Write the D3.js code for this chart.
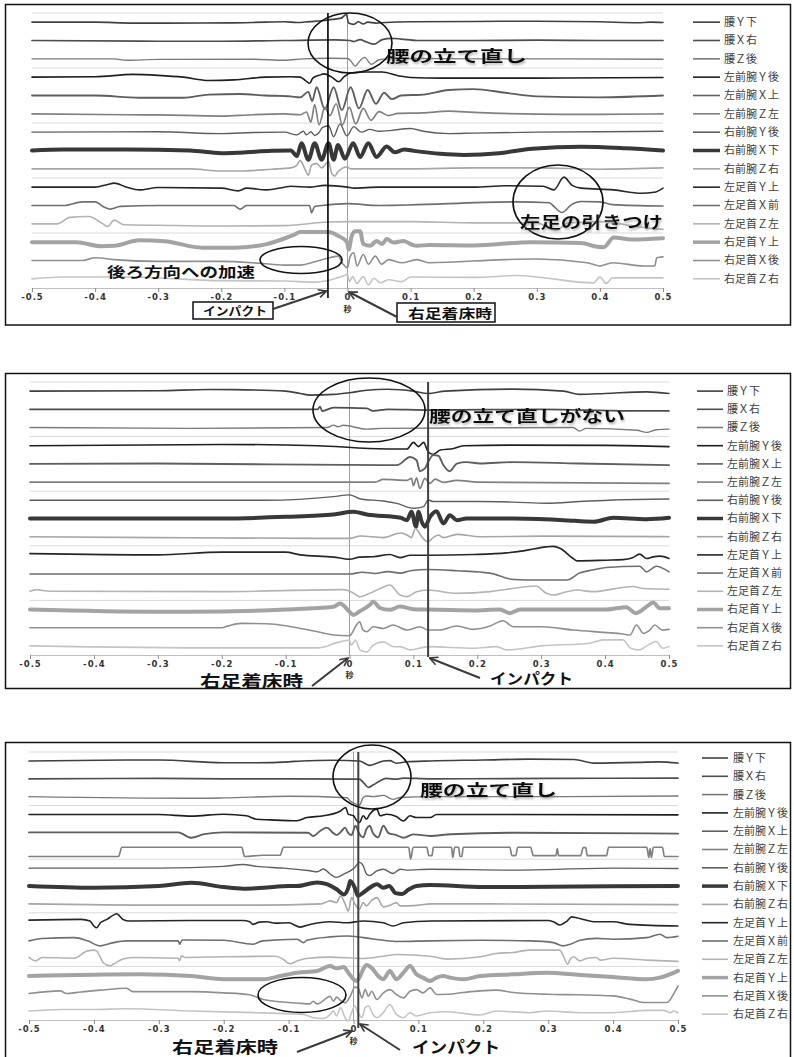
<!DOCTYPE html>
<html><head><meta charset="utf-8">
<script src="https://cdn.jsdelivr.net/npm/d3@7"></script>
<style>body{margin:0;background:#fff}svg{display:block}</style>
</head><body>
<svg id="c" width="794" height="1057"></svg>
<script>
// ---------- categories / ticks ----------
const seriesNames = ["腰Ｙ下","腰Ｘ右","腰Ｚ後","左前腕Ｙ後","左前腕Ｘ上","左前腕Ｚ左","右前腕Ｙ後","右前腕Ｘ下","右前腕Ｚ右","左足首Ｙ上","左足首Ｘ前","左足首Ｚ左","右足首Ｙ上","右足首Ｘ後","右足首Ｚ右"];
const xTicks = [-0.5,-0.4,-0.3,-0.2,-0.1,0,0.1,0.2,0.3,0.4,0.5];
const xTickLabels = ["-0.5","-0.4","-0.3","-0.2","-0.1","0","0.1","0.2","0.3","0.4","0.5"];
const axisTitle = "秒";
const gridValues = [3,6,9,12,15];

// ---------- series values: [time (s), deviation from the trace's own baseline] ----------
// swing 1
const s1WaistY = [[-0.5,0],[-0.4,0],[-0.34,-0.05],[-0.29,-0.05],[-0.19,-0.04],[-0.13,0],[-0.1,0.02],[-0.08,-0.02],[-0.06,0.03],[-0.04,0.08],[-0.025,0.15],[-0.01,0.22],[-0.002,0.42],[0.002,-0.05],[0.01,-0.12],[0.017,0.02],[0.025,-0.1],[0.032,0],[0.045,-0.05],[0.06,-0.02],[0.1,0.02],[0.2,0.04],[0.3,0.05],[0.4,0.02],[0.46,-0.03],[0.48,0],[0.5,-0.02]];
const s1WaistX = [[-0.5,0],[-0.3,-0.04],[-0.2,-0.04],[-0.1,0],[-0.02,0.03],[0.004,0],[0.01,-0.06],[0.02,0.05],[0.03,-0.08],[0.042,-0.2],[0.055,0.05],[0.07,0.12],[0.085,0.08],[0.11,0],[0.2,0],[0.3,0.02],[0.4,0],[0.5,0]];
const s1WaistZ = [[-0.5,0],[-0.37,0],[-0.35,-0.08],[-0.3,-0.03],[-0.15,-0.02],[-0.1,-0.08],[-0.07,0],[-0.03,0.03],[0,0.02],[0.005,-0.1],[0.012,-0.4],[0.02,-0.1],[0.027,0.08],[0.038,-0.3],[0.05,-0.05],[0.065,0],[0.1,0.02],[0.2,0],[0.35,0],[0.5,-0.02]];
const s1LArmY = [[-0.5,0],[-0.4,0.02],[-0.34,0.15],[-0.3,0.1],[-0.26,0],[-0.22,-0.18],[-0.18,-0.15],[-0.13,0],[-0.09,0.02],[-0.075,0],[-0.066,-0.2],[-0.06,-0.33],[-0.055,-0.05],[-0.045,0.1],[-0.037,0.18],[-0.025,0],[-0.014,-0.25],[-0.006,0],[0.004,0.22],[0.03,0.28],[0.055,0.28],[0.08,0.08],[0.1,-0.02],[0.15,-0.05],[0.3,-0.05],[0.5,-0.02]];
const s1LArmX = [[-0.5,0],[-0.4,0],[-0.33,-0.12],[-0.26,-0.12],[-0.22,0.05],[-0.17,0.08],[-0.13,0],[-0.09,-0.05],[-0.075,-0.1],[-0.062,0.2],[-0.056,-0.3],[-0.049,0.45],[-0.036,-0.75],[-0.022,0.45],[-0.009,-0.8],[0.005,0.45],[0.018,-0.7],[0.032,0.3],[0.045,-0.45],[0.058,0.15],[0.07,-0.2],[0.085,0],[0.12,0.05],[0.16,0.3],[0.2,0.35],[0.25,0.15],[0.3,-0.05],[0.4,-0.1],[0.5,0]];
const s1LArmZ = [[-0.5,0],[-0.35,-0.05],[-0.3,-0.06],[-0.2,-0.12],[-0.17,-0.08],[-0.1,0],[-0.075,-0.05],[-0.065,0.1],[-0.058,-0.45],[-0.052,0.5],[-0.045,-0.6],[-0.036,0.35],[-0.028,-0.1],[-0.018,0.55],[-0.008,-0.6],[0.003,0.35],[0.013,-0.55],[0.025,0.3],[0.037,-0.35],[0.05,0.12],[0.065,-0.1],[0.08,0.02],[0.12,0.05],[0.16,0.15],[0.2,0.08],[0.3,-0.02],[0.4,-0.03],[0.5,0]];
const s1RArmY = [[-0.5,0],[-0.3,0.02],[-0.2,-0.08],[-0.15,-0.02],[-0.1,0],[-0.08,-0.15],[-0.07,0.05],[-0.065,-0.15],[-0.058,0.02],[-0.052,-0.18],[-0.045,-0.02],[-0.04,0.25],[-0.03,0.35],[-0.022,-0.25],[-0.012,0.45],[-0.001,-0.2],[0.01,0.3],[0.022,0],[0.035,0.15],[0.05,0.05],[0.07,0.1],[0.1,0.2],[0.12,0.05],[0.16,-0.08],[0.2,-0.05],[0.3,0],[0.4,0.02],[0.5,0.05]];
const s1RArmX = [[-0.5,0],[-0.45,0.05],[-0.35,0.05],[-0.25,0],[-0.2,-0.15],[-0.17,-0.12],[-0.12,-0.02],[-0.09,0],[-0.08,-0.3],[-0.073,0.4],[-0.062,-0.5],[-0.052,0.4],[-0.041,-0.5],[-0.03,0.4],[-0.022,-0.5],[-0.015,0.3],[-0.004,-0.45],[0.009,0.4],[0.02,-0.35],[0.033,0.4],[0.046,-0.35],[0.062,0.22],[0.075,-0.1],[0.09,0.05],[0.105,-0.02],[0.147,-0.18],[0.184,-0.24],[0.24,-0.15],[0.293,0.1],[0.37,0.2],[0.44,0.12],[0.5,0]];
const s1RArmZ = [[-0.5,0],[-0.25,0],[-0.2,-0.12],[-0.17,-0.12],[-0.12,-0.02],[-0.09,0.05],[-0.08,0.2],[-0.075,0.45],[-0.067,-0.05],[-0.062,-0.35],[-0.057,0.2],[-0.049,0.3],[-0.041,0.05],[-0.03,0.4],[-0.025,-0.25],[-0.02,-0.4],[-0.015,-0.15],[-0.001,0.1],[0.005,0],[0.1,0],[0.2,0.05],[0.3,0.05],[0.4,-0.02],[0.5,0.05]];
const s1LAnkY = [[-0.5,0],[-0.4,0],[-0.38,0.15],[-0.37,0.22],[-0.35,0],[-0.33,-0.15],[-0.3,-0.02],[-0.2,-0.05],[-0.173,-0.2],[-0.16,-0.05],[-0.128,-0.15],[-0.1,0],[-0.09,0.05],[-0.06,0],[-0.036,0.1],[0,0],[0.01,-0.05],[0.05,0],[0.2,0],[0.25,0.08],[0.31,0.05],[0.327,-0.15],[0.343,0.55],[0.356,0.1],[0.37,-0.05],[0.422,-0.15],[0.465,-0.33],[0.486,-0.28],[0.5,-0.05]];
const s1LAnkX = [[-0.5,0],[-0.45,0],[-0.42,0.2],[-0.4,0.2],[-0.385,-0.1],[-0.376,-0.2],[-0.36,-0.05],[-0.3,0],[-0.18,0],[-0.17,-0.2],[-0.16,0],[-0.06,0],[-0.057,-0.4],[-0.052,-0.05],[-0.04,0],[0,0.1],[0.05,0],[0.27,0.2],[0.32,0.15],[0.327,-0.05],[0.34,-0.38],[0.355,0.05],[0.37,0.22],[0.4,0.2],[0.42,0.05],[0.5,-0.03]];
const s1LAnkZ = [[-0.5,0],[-0.46,0],[-0.44,0.35],[-0.41,0.4],[-0.39,0.05],[-0.38,-0.15],[-0.37,0.2],[-0.355,-0.05],[-0.3,-0.08],[-0.2,-0.12],[-0.1,-0.1],[-0.03,0.1],[0,0.12],[0.1,0.12],[0.2,0.05],[0.3,0.05],[0.33,-0.35],[0.35,0.05],[0.37,0.08],[0.4,0.12],[0.45,-0.1],[0.48,-0.25],[0.5,-0.3]];
const s1RAnkY = [[-0.5,0],[-0.43,0],[-0.39,-0.22],[-0.37,-0.2],[-0.33,0.1],[-0.29,0.05],[-0.23,-0.3],[-0.18,-0.3],[-0.13,-0.12],[-0.1,0.2],[-0.085,0.4],[-0.075,0.55],[-0.03,0.55],[-0.015,0.35],[-0.001,0],[0.002,-0.4],[0.006,0.25],[0.012,0.6],[0.02,0.6],[0.025,-0.1],[0.036,-0.2],[0.046,0.07],[0.055,-0.1],[0.062,0.17],[0.073,-0.02],[0.089,0.07],[0.1,-0.1],[0.11,-0.2],[0.13,-0.15],[0.2,-0.18],[0.29,0],[0.37,-0.05],[0.396,-0.25],[0.406,-0.28],[0.422,0.25],[0.45,0.15],[0.5,0.22]];
const s1RAnkX = [[-0.5,0],[-0.42,0],[-0.4,0.15],[-0.37,0.05],[-0.3,-0.05],[-0.2,-0.05],[-0.14,-0.15],[-0.1,-0.25],[-0.075,-0.25],[-0.05,-0.05],[-0.028,0.15],[-0.015,0.24],[-0.007,-0.2],[0,-0.4],[0.004,0.2],[0.01,0.42],[0.015,-0.3],[0.025,0.33],[0.033,-0.2],[0.044,0.24],[0.054,-0.2],[0.065,0.05],[0.086,-0.12],[0.11,0.05],[0.13,-0.12],[0.25,0.05],[0.3,0.08],[0.38,-0.12],[0.4,-0.3],[0.42,-0.12],[0.47,-0.3],[0.487,-0.3],[0.49,0.15],[0.5,0.2]];
const s1RAnkZ = [[-0.5,0],[-0.45,0.1],[-0.35,0.1],[-0.2,-0.1],[-0.1,-0.12],[-0.05,-0.18],[-0.011,0.1],[0,0.22],[0.003,-0.15],[0.008,0.12],[0.015,-0.25],[0.025,0.12],[0.033,-0.33],[0.042,0.03],[0.052,-0.22],[0.065,-0.05],[0.086,-0.15],[0.1,0.1],[0.2,0.08],[0.27,0.18],[0.3,0.1],[0.39,-0.22],[0.4,0.1],[0.41,-0.25],[0.42,0.05],[0.5,0.05]];

// swing 2
const s2WaistY = [[-0.5,0],[-0.3,0.02],[-0.22,0.09],[-0.18,0.08],[-0.1,0],[-0.077,-0.13],[-0.062,-0.22],[-0.025,-0.18],[0,-0.09],[0.027,0.05],[0.06,0.1],[0.1,0],[0.123,-0.13],[0.15,0],[0.256,0.11],[0.335,0],[0.36,-0.18],[0.4,-0.13],[0.465,-0.04],[0.5,-0.13]];
const s2WaistX = [[-0.5,0],[-0.2,0],[-0.05,0],[-0.046,0.15],[-0.043,-0.1],[-0.025,0.09],[0.027,0.05],[0.037,-0.09],[0.06,0],[0.123,-0.04],[0.3,0],[0.45,-0.09],[0.5,-0.09]];
const s2WaistZ = [[-0.5,0],[-0.25,-0.05],[-0.035,0],[-0.025,0.13],[-0.018,0.04],[-0.01,0.12],[0.027,-0.09],[0.05,-0.05],[0.2,-0.02],[0.35,0],[0.36,-0.2],[0.37,-0.05],[0.45,-0.15],[0.465,-0.27],[0.48,-0.12],[0.5,-0.09]];
const s2LArmY = [[-0.5,0],[-0.2,0.07],[-0.05,0],[0.03,-0.15],[0.09,-0.18],[0.1,0.18],[0.108,-0.05],[0.116,0.18],[0.123,-0.33],[0.131,-0.48],[0.142,-0.24],[0.163,-0.15],[0.178,0],[0.25,0.03],[0.4,0.02],[0.5,-0.05]];
const s2LArmX = [[-0.5,0],[-0.3,0.02],[0.053,-0.07],[0.074,-0.07],[0.095,0.38],[0.105,0.2],[0.11,-0.4],[0.118,-0.25],[0.123,0.1],[0.131,0.48],[0.139,0.45],[0.147,-0.07],[0.157,-0.4],[0.168,0.02],[0.183,0.1],[0.204,0.02],[0.256,0.1],[0.36,0.02],[0.5,-0.07]];
const s2LArmZ = [[-0.5,0],[0.04,0],[0.053,0.15],[0.09,0.1],[0.097,0.2],[0.1,-0.2],[0.105,0.24],[0.11,-0.35],[0.118,0.2],[0.126,-0.07],[0.134,0.16],[0.147,-0.02],[0.168,0.1],[0.2,0],[0.5,-0.07]];
const s2RArmY = [[-0.5,0],[-0.13,0],[-0.025,0.2],[0,0.3],[0.017,0.07],[0.053,-0.04],[0.074,-0.17],[0.1,-0.44],[0.116,-0.35],[0.123,0.02],[0.131,-0.07],[0.2,-0.07],[0.256,-0.1],[0.309,-0.16],[0.36,-0.07],[0.413,0.02],[0.5,0.07]];
const s2RArmX = [[-0.5,0],[-0.2,0],[-0.1,0.09],[-0.025,0.22],[0.006,0.37],[0.027,0.22],[0.08,0.04],[0.09,-0.09],[0.097,0.37],[0.104,-0.45],[0.108,0.37],[0.113,-0.18],[0.118,-0.45],[0.126,0.09],[0.136,0.4],[0.147,-0.27],[0.157,0.18],[0.168,-0.09],[0.183,0],[0.256,0],[0.335,-0.09],[0.382,-0.18],[0.413,0.04],[0.465,-0.04],[0.5,0.04]];
const s2RArmZ = [[-0.5,0],[-0.3,-0.05],[-0.05,-0.09],[0,-0.09],[0.017,0.04],[0.053,-0.05],[0.08,0.2],[0.09,0.09],[0.097,-0.05],[0.103,0.45],[0.108,0.27],[0.113,0],[0.123,-0.27],[0.131,-0.05],[0.139,0.09],[0.147,-0.05],[0.168,0.13],[0.204,0],[0.3,0.03],[0.5,0]];
const s2LAnkY = [[-0.5,0.07],[-0.3,0],[-0.2,0.15],[-0.1,0.15],[-0.077,0],[-0.025,-0.12],[0,-0.24],[0.016,-0.12],[0.037,-0.1],[0.063,0.02],[0.079,-0.15],[0.095,-0.02],[0.123,-0.02],[0.194,0.02],[0.246,0.11],[0.272,0.22],[0.308,0.44],[0.319,0.47],[0.33,0.35],[0.35,-0.2],[0.356,-0.33],[0.402,-0.29],[0.428,-0.26],[0.443,-0.15],[0.454,0.04],[0.465,-0.2],[0.475,-0.11],[0.486,-0.07],[0.5,-0.2]];
const s2LAnkX = [[-0.5,-0.05],[-0.2,-0.05],[0,-0.05],[0.02,0.05],[0.04,-0.02],[0.06,0.08],[0.08,0],[0.095,0.13],[0.123,0.2],[0.168,0.13],[0.22,0],[0.257,-0.35],[0.298,-0.38],[0.34,-0.38],[0.36,0],[0.38,0.17],[0.402,0.31],[0.454,0.38],[0.465,0.07],[0.48,0.38],[0.5,0.07]];
const s2LAnkZ = [[-0.5,0],[-0.49,0.09],[-0.47,0],[-0.2,-0.02],[-0.01,0.09],[0.006,-0.09],[0.016,-0.3],[0.032,-0.1],[0.048,0.15],[0.063,0.35],[0.079,-0.2],[0.09,-0.29],[0.105,-0.02],[0.123,0.07],[0.168,-0.11],[0.22,-0.02],[0.246,0.11],[0.292,0.29],[0.308,-0.11],[0.319,-0.2],[0.34,-0.02],[0.356,0.07],[0.38,-0.02],[0.443,0.26],[0.46,0.15],[0.5,0.11]];
const s2RAnkY = [[-0.5,0],[-0.3,-0.12],[-0.25,-0.12],[-0.1,0],[-0.025,0.15],[-0.015,0.33],[0,-0.12],[0.006,-0.3],[0.016,-0.1],[0.032,0.26],[0.037,0.42],[0.048,0.07],[0.063,-0.02],[0.079,0.16],[0.1,0.02],[0.123,0],[0.194,-0.05],[0.235,0],[0.251,-0.2],[0.267,0],[0.402,0],[0.433,0.13],[0.448,-0.2],[0.465,0.16],[0.475,0.38],[0.486,0.07],[0.5,0.07]];
const s2RAnkX = [[-0.5,0],[-0.2,0],[-0.19,0.1],[-0.17,0.24],[-0.13,0.22],[-0.1,0.11],[-0.077,-0.04],[-0.05,-0.22],[-0.025,-0.4],[0,-0.44],[0.011,0.15],[0.016,0.33],[0.021,-0.13],[0.027,-0.22],[0.037,0.05],[0.053,-0.04],[0.068,0.15],[0.09,-0.13],[0.11,0.05],[0.123,-0.13],[0.141,-0.13],[0.168,0.09],[0.194,-0.09],[0.22,0.09],[0.24,0.38],[0.257,0.05],[0.3,0.05],[0.35,-0.13],[0.428,-0.35],[0.439,-0.4],[0.449,0.15],[0.46,-0.31],[0.47,-0.13],[0.478,0.15],[0.489,-0.13],[0.5,-0.09]];
const s2RAnkZ = [[-0.5,0],[-0.2,-0.11],[-0.05,-0.11],[-0.015,0.22],[0,0.31],[0.003,0.04],[0.009,0.31],[0.017,-0.24],[0.027,-0.33],[0.037,0.04],[0.053,0.22],[0.07,-0.05],[0.079,-0.04],[0.095,-0.22],[0.123,-0.04],[0.194,-0.13],[0.23,-0.04],[0.246,-0.22],[0.3,0],[0.376,0.15],[0.397,0.33],[0.428,0.33],[0.44,-0.13],[0.454,-0.22],[0.465,0],[0.48,0.24],[0.49,-0.13],[0.5,-0.04]];

// swing 3
const s3WaistY = [[-0.5,0],[-0.35,0.05],[-0.3,0.05],[-0.2,-0.1],[-0.15,-0.1],[-0.1,-0.05],[-0.08,0],[-0.031,0.04],[0.009,0],[0.015,-0.09],[0.025,-0.25],[0.036,-0.13],[0.046,0],[0.056,0.02],[0.066,-0.13],[0.082,-0.05],[0.118,0],[0.2,0.05],[0.27,0.1],[0.34,0.08],[0.37,-0.12],[0.44,-0.08],[0.47,-0.05],[0.5,-0.12]];
const s3WaistX = [[-0.5,0],[-0.3,0.02],[-0.2,0],[0.009,-0.02],[0.015,-0.2],[0.023,-0.48],[0.03,-0.35],[0.041,-0.11],[0.05,0.02],[0.066,-0.02],[0.077,0.04],[0.118,0],[0.3,0.02],[0.5,0.04]];
const s3WaistZ = [[-0.5,0],[-0.25,-0.09],[-0.2,-0.07],[-0.1,0.02],[-0.01,-0.06],[-0.005,-0.25],[0.003,-0.4],[0.009,-0.48],[0.015,-0.05],[0.02,0.04],[0.03,0],[0.046,0.07],[0.061,-0.15],[0.072,-0.05],[0.118,0],[0.3,0],[0.5,0.04]];
const s3LArmY = [[-0.5,0],[-0.3,0],[-0.25,-0.09],[-0.2,0.02],[-0.165,-0.07],[-0.15,-0.26],[-0.128,-0.3],[-0.087,-0.35],[-0.072,-0.17],[-0.046,-0.07],[-0.02,0.2],[-0.012,0.39],[-0.008,0.02],[0,-0.07],[0.005,-0.35],[0.009,-0.45],[0.015,-0.07],[0.02,-0.26],[0.025,0.02],[0.036,0.3],[0.041,-0.07],[0.051,0.02],[0.066,-0.11],[0.077,-0.36],[0.087,-0.07],[0.097,-0.17],[0.118,-0.17],[0.128,0],[0.2,0],[0.5,-0.02]];
const s3LArmX = [[-0.5,0],[-0.27,0],[-0.25,-0.3],[-0.23,-0.1],[-0.2,0],[-0.07,-0.02],[-0.062,-0.2],[-0.051,0.09],[-0.041,0.27],[-0.031,-0.04],[-0.026,-0.15],[-0.018,0.09],[-0.013,0.27],[-0.008,-0.04],[-0.003,-0.15],[0.003,0.37],[0.009,-0.09],[0.015,-0.28],[0.02,0.19],[0.025,0.37],[0.03,-0.04],[0.038,-0.28],[0.046,0.37],[0.054,-0.04],[0.066,-0.15],[0.077,-0.3],[0.092,-0.11],[0.118,-0.2],[0.15,-0.1],[0.25,-0.02],[0.5,-0.07]];
const s3LArmZ = [[-0.5,-0.35],[-0.362,-0.35],[-0.357,0.17],[-0.172,0.17],[-0.168,-0.35],[-0.14,-0.28],[-0.113,-0.28],[-0.108,0.17],[0.085,0.17],[0.088,-0.5],[0.092,0.17],[0.113,0.17],[0.116,-0.3],[0.121,-0.3],[0.123,0.17],[0.151,0.17],[0.153,-0.4],[0.156,0.17],[0.162,0.17],[0.164,-0.35],[0.167,-0.35],[0.169,0.17],[0.241,0.17],[0.244,-0.3],[0.25,-0.3],[0.253,0.17],[0.273,0.17],[0.277,-0.3],[0.312,-0.3],[0.314,0.1],[0.316,-0.3],[0.35,-0.3],[0.354,0.15],[0.358,0.15],[0.36,-0.3],[0.39,-0.3],[0.393,0.17],[0.452,0.17],[0.455,-0.4],[0.457,0.1],[0.459,-0.4],[0.462,0.17],[0.476,0.17],[0.479,-0.35],[0.5,-0.35]];
const s3RArmY = [[-0.5,0],[-0.3,0],[-0.2,0.1],[-0.17,0.2],[-0.15,0.1],[-0.108,0],[-0.067,-0.15],[-0.056,-0.2],[-0.046,-0.05],[-0.036,-0.33],[-0.026,-0.52],[-0.015,-0.33],[-0.005,-0.15],[0.002,0.04],[0.009,0.32],[0.015,0.13],[0.02,-0.33],[0.025,-0.42],[0.036,-0.15],[0.046,-0.06],[0.061,-0.3],[0.072,-0.06],[0.082,-0.11],[0.118,-0.06],[0.246,-0.11],[0.4,0],[0.5,-0.02]];
const s3RArmX = [[-0.5,0],[-0.4,-0.1],[-0.3,0],[-0.25,0.18],[-0.2,-0.06],[-0.17,-0.15],[-0.139,-0.1],[-0.1,0],[-0.087,0],[-0.056,0.2],[-0.041,0.1],[-0.026,-0.18],[-0.015,-0.47],[-0.008,-0.1],[-0.005,0.28],[0.002,-0.1],[0.007,-0.55],[0.015,-0.37],[0.025,-0.1],[0.036,0.1],[0.046,-0.1],[0.055,0],[0.065,-0.4],[0.075,-0.45],[0.085,-0.2],[0.097,0],[0.118,0.05],[0.2,-0.06],[0.3,-0.04],[0.5,0]];
const s3RArmZ = [[-0.5,0],[-0.3,-0.07],[-0.15,-0.07],[-0.05,0],[-0.036,0.17],[-0.026,0.07],[-0.02,0.44],[-0.013,0],[-0.008,-0.4],[-0.003,0.35],[0.002,0],[0.009,-0.3],[0.015,0.07],[0.02,-0.11],[0.028,0.2],[0.036,0.35],[0.046,-0.17],[0.061,0],[0.066,0.07],[0.072,-0.11],[0.092,-0.1],[0.12,0],[0.5,-0.04]];
const s3LAnkY = [[-0.5,0.09],[-0.42,0.13],[-0.406,0.04],[-0.4,-0.24],[-0.396,-0.34],[-0.39,-0.06],[-0.38,0.13],[-0.37,0.37],[-0.365,0.45],[-0.355,0.13],[-0.345,0.04],[-0.25,0.07],[-0.17,0.07],[-0.16,0],[-0.155,-0.15],[-0.145,-0.02],[-0.134,0],[-0.12,-0.08],[-0.1,-0.06],[-0.082,-0.3],[-0.067,-0.15],[-0.036,0],[-0.01,-0.06],[0.015,0.04],[0.046,-0.06],[0.061,-0.24],[0.077,-0.06],[0.12,0.04],[0.3,0.07],[0.308,0],[0.318,-0.18],[0.329,0.04],[0.336,0.27],[0.344,0.22],[0.354,0.13],[0.37,0],[0.4,0],[0.426,-0.15],[0.5,-0.24]];
const s3LAnkX = [[-0.5,-0.07],[-0.48,0.06],[-0.43,0.11],[-0.41,-0.07],[-0.39,-0.35],[-0.37,-0.17],[-0.35,-0.07],[-0.27,-0.07],[-0.268,-0.26],[-0.264,-0.02],[-0.2,-0.04],[-0.155,-0.26],[-0.14,-0.07],[-0.087,0.02],[-0.077,-0.17],[-0.072,-0.04],[-0.036,0.15],[-0.01,0.2],[0.015,0.11],[0.046,-0.04],[0.066,-0.11],[0.118,-0.07],[0.195,-0.04],[0.272,-0.07],[0.308,-0.17],[0.323,-0.35],[0.334,-0.26],[0.349,-0.04],[0.374,0.07],[0.4,0.02],[0.452,0.11],[0.472,0.3],[0.483,0.11],[0.5,0.19]];
const s3LAnkZ = [[-0.5,0],[-0.49,-0.19],[-0.48,0],[-0.43,-0.04],[-0.41,0.37],[-0.4,0.41],[-0.396,0.37],[-0.39,0],[-0.386,-0.28],[-0.375,-0.47],[-0.37,-0.37],[-0.355,-0.09],[-0.34,0],[-0.27,-0.04],[-0.268,-0.19],[-0.265,0.09],[-0.26,0],[-0.2,0.04],[-0.12,0.07],[-0.108,-0.11],[-0.098,-0.35],[-0.087,-0.2],[-0.072,-0.06],[-0.036,0.02],[0.015,-0.06],[0.046,0.07],[0.066,0.17],[0.118,0.07],[0.144,-0.09],[0.195,0.04],[0.22,0.22],[0.246,0.28],[0.272,0.41],[0.318,0.41],[0.322,0.19],[0.33,-0.37],[0.334,-0.09],[0.339,0.04],[0.349,-0.19],[0.36,-0.04],[0.374,0],[0.38,-0.15],[0.4,-0.04],[0.452,-0.15],[0.5,-0.22]];
const s3RAnkY = [[-0.5,-0.04],[-0.33,0.06],[-0.25,-0.04],[-0.2,-0.22],[-0.139,-0.22],[-0.113,-0.04],[-0.087,0.15],[-0.056,0.24],[-0.036,0.52],[-0.026,0.39],[-0.015,0.46],[-0.008,0.15],[0,-0.22],[0.005,-0.32],[0.009,-0.13],[0.015,0.34],[0.02,0.58],[0.03,0.34],[0.038,-0.04],[0.046,-0.22],[0.056,0.24],[0.066,-0.22],[0.077,0.15],[0.087,0.52],[0.097,0.06],[0.107,-0.13],[0.118,-0.32],[0.128,-0.13],[0.138,-0.04],[0.149,-0.13],[0.169,-0.22],[0.195,-0.04],[0.246,0.06],[0.298,0.15],[0.349,0.02],[0.4,-0.09],[0.452,-0.22],[0.472,-0.13],[0.5,0.25]];
const s3RAnkX = [[-0.5,-0.02],[-0.452,0.13],[-0.442,-0.02],[-0.42,0.07],[-0.39,0.17],[-0.35,0.28],[-0.34,0.09],[-0.25,0.09],[-0.2,0.02],[-0.16,-0.09],[-0.139,-0.35],[-0.113,-0.48],[-0.087,-0.55],[-0.067,-0.6],[-0.062,-0.45],[-0.056,-0.6],[-0.041,-0.26],[-0.036,-0.17],[-0.031,-0.45],[-0.026,-0.22],[-0.02,-0.41],[-0.013,-0.54],[-0.005,-0.17],[0.002,0.34],[0.007,0.3],[0.013,-0.26],[0.018,0.2],[0.023,-0.17],[0.028,0.11],[0.036,-0.35],[0.046,0.02],[0.056,0.2],[0.066,-0.07],[0.077,-0.26],[0.087,0.11],[0.097,0.2],[0.107,0.02],[0.118,0.3],[0.128,-0.07],[0.144,-0.06],[0.169,0.04],[0.195,0.13],[0.22,0.17],[0.246,0.04],[0.298,-0.06],[0.349,-0.09],[0.4,-0.15],[0.426,-0.33],[0.447,-0.52],[0.483,-0.52],[0.493,-0.06],[0.5,0.41]];
const s3RAnkZ = [[-0.5,0],[-0.45,0.09],[-0.4,0.09],[-0.35,0.13],[-0.25,0],[-0.15,-0.09],[-0.1,-0.15],[-0.077,-0.19],[-0.062,-0.37],[-0.046,-0.41],[-0.036,-0.19],[-0.031,0],[-0.026,-0.28],[-0.02,0.19],[-0.013,-0.37],[-0.008,-0.56],[-0.003,-0.09],[0.002,0.28],[0.007,-0.09],[0.013,-0.37],[0.018,0.19],[0.023,0.28],[0.03,-0.19],[0.036,-0.37],[0.046,-0.09],[0.056,0.37],[0.066,-0.19],[0.077,-0.37],[0.087,-0.09],[0.097,-0.28],[0.118,-0.09],[0.144,-0.04],[0.195,-0.22],[0.22,0],[0.272,-0.09],[0.298,0],[0.349,-0.09],[0.4,-0.09],[0.452,0.04],[0.478,0.04],[0.488,-0.09],[0.493,0],[0.5,-0.09]];

// impact times (s)
const impactTimes = [-0.031, 0.123, 0.0074];

// ---------- styles (kept separate from data) ----------
const seriesColors = ["#404040","#4d4d4d","#7a7a7a","#1f1f1f","#5e5e5e","#808080","#5e5e5e","#383838","#a6a6a6","#262626","#6e6e6e","#b3b3b3","#a3a3a3","#8f8f8f","#c4c4c4"];
const seriesWidths = [1.6,1.7,1.4,1.6,1.9,1.7,1.4,4,1.6,1.6,1.6,1.6,4,1.6,1.6];

const svg = d3.select("#c");
const defs = svg.append("defs");
defs.append("marker").attr("id","arr").attr("viewBox","0 0 10 10").attr("refX",9).attr("refY",5)
  .attr("markerWidth",5).attr("markerHeight",5).attr("orient","auto")
  .append("path").attr("d","M1,1 L9,5 L1,9").attr("fill","none").attr("stroke","#3a3a3a").attr("stroke-width",1.6);
const f = defs.append("filter").attr("id","sh").attr("x","-10%").attr("y","-20%").attr("width","130%").attr("height","160%");
f.append("feDropShadow").attr("dx",1).attr("dy",2).attr("stdDeviation",1.2).attr("flood-color","#888").attr("flood-opacity",0.6);

const JP = "'Noto Sans CJK JP','Noto Sans CJK SC',sans-serif";

const panels = [
  { series:[s1WaistY,s1WaistX,s1WaistZ,s1LArmY,s1LArmX,s1LArmZ,s1RArmY,s1RArmX,s1RArmZ,s1LAnkY,s1LAnkX,s1LAnkZ,s1RAnkY,s1RAnkX,s1RAnkZ],
    impact: impactTimes[0], box:[4.5,325], x:[32,663], y:[288,13], impLine:{y1:13,y2:298,color:"#000",w:1.6},
    leg:{x0:693,x1:720,tx:724,y0:null,step:null}, secY:312,
    ellipses:[[350,43,42,30],[558,202,45,37],[301,260,41,13.5]],
    texts:[{t:"腰の立て直し",x:386,y:62,w:141,s:16,sh:true},{t:"左足の引きつけ",x:520,y:228,w:143,s:16,sh:true},{t:"後ろ方向への加速",x:107,y:277,w:148,s:14,sh:false}],
    boxes:[{t:"インパクト",x:193,y:302,w:80,h:17,tx:203,tw:64,ty:316,s:12},{t:"右足着床時",x:397,y:303,w:98,h:19,tx:408,tw:84,ty:318,s:13}],
    arrows:[[[273,309],"imp",291],[[397,317],"zero",292]] },
  { series:[s2WaistY,s2WaistX,s2WaistZ,s2LArmY,s2LArmX,s2LArmZ,s2RArmY,s2RArmX,s2RArmZ,s2LAnkY,s2LAnkX,s2LAnkZ,s2RAnkY,s2RAnkX,s2RAnkZ],
    impact: impactTimes[1], box:[373.5,688.5], x:[30,669], y:[655,382], impLine:{y1:382,y2:657,color:"#404040",w:2},
    leg:{x0:697,x1:723,tx:727,y0:null,step:null}, secY:678,
    ellipses:[[369,410,56,32]],
    texts:[{t:"腰の立て直しがない",x:429,y:422,w:196,s:16,sh:true},{t:"右足着床時",x:200,y:687,w:103,s:16,sh:false},{t:"インパクト",x:490,y:684,w:83,s:15,sh:false}],
    boxes:[],
    arrows:[[[312,686],"zero",658],[[480,678],"imp",658]] },
  { series:[s3WaistY,s3WaistX,s3WaistZ,s3LArmY,s3LArmX,s3LArmZ,s3RArmY,s3RArmX,s3RArmZ,s3LAnkY,s3LAnkX,s3LAnkZ,s3RAnkY,s3RAnkX,s3RAnkZ],
    impact: impactTimes[2], box:[742.5,1080], x:[29,678], y:[1020,752], impLine:{y1:752,y2:1028,color:"#404040",w:2},
    leg:{x0:702,x1:728,tx:733,y0:758,step:18.3}, secY:1044,
    ellipses:[[372,777,39,32],[302,995,44,17.5]],
    texts:[{t:"腰の立て直し",x:420,y:796,w:137,s:16,sh:true},{t:"右足着床時",x:172,y:1053,w:106,s:16,sh:false},{t:"インパクト",x:412,y:1053,w:88,s:16,sh:false}],
    boxes:[],
    arrows:[[[297,1052],"zero",1031],[[400,1050],"imp",1024]] }
];

panels.forEach(p => {
  const g = svg.append("g");
  const x = d3.scaleLinear().domain([-0.5,0.5]).range(p.x);
  const y = d3.scaleLinear().domain([0,15]).range(p.y);

  g.append("rect").attr("x",5.5).attr("y",p.box[0]).attr("width",785).attr("height",p.box[1]-p.box[0])
    .attr("fill","none").attr("stroke","#111").attr("stroke-width",1.5);

  // grid
  g.selectAll(".grid").data(gridValues).join("line")
    .attr("x1",p.x[0]).attr("x2",p.x[1]).attr("y1",d=>y(d)).attr("y2",d=>y(d))
    .attr("stroke","#d9d9d9").attr("stroke-width",1);

  // axis
  const ax = g.append("g").attr("transform",`translate(0,${y(0)})`)
    .call(d3.axisBottom(x).tickValues(xTicks).tickFormat((d,i)=>xTickLabels[i]).tickSizeInner(4).tickSizeOuter(0).tickPadding(2));
  ax.select(".domain").attr("stroke","#bfbfbf");
  ax.selectAll(".tick line").attr("stroke","#8c8c8c");
  ax.selectAll(".tick text").attr("fill","#333").attr("font-family","'DejaVu Sans',sans-serif")
    .attr("font-size",8.5).attr("letter-spacing",1).attr("font-weight","bold");
  g.append("text").attr("x",x(0)).attr("y",p.secY).attr("text-anchor","middle")
    .attr("font-family",JP).attr("font-size",8).attr("font-weight","bold").attr("fill","#333").text(axisTitle);

  // zero reference line
  g.append("line").attr("x1",x(0)).attr("x2",x(0)).attr("y1",y(15)).attr("y2",y(0))
    .attr("stroke","#a0a0a0").attr("stroke-width",1);

  // series
  p.series.forEach((s,i) => {
    const base = 14.5 - i;
    const line = d3.line().x(d=>x(d[0])).y(d=>y(base + d[1])).curve(d3.curveMonotoneX);
    g.append("path").attr("d",line(s)).attr("fill","none")
      .attr("stroke",seriesColors[i]).attr("stroke-width",seriesWidths[i])
      .attr("stroke-linejoin","round").attr("stroke-linecap","round");
  });

  // impact line
  g.append("line").attr("x1",x(p.impact)).attr("x2",x(p.impact)).attr("y1",p.impLine.y1).attr("y2",p.impLine.y2)
    .attr("stroke",p.impLine.color).attr("stroke-width",p.impLine.w);

  // legend
  seriesNames.forEach((n,i) => {
    const ly = p.leg.y0 === null ? y(14.5 - i) : p.leg.y0 + i*p.leg.step;
    g.append("line").attr("x1",p.leg.x0).attr("x2",p.leg.x1).attr("y1",ly).attr("y2",ly)
      .attr("stroke",seriesColors[i]).attr("stroke-width",seriesWidths[i]===4?3.5:1.6);
    g.append("text").attr("x",p.leg.tx).attr("y",ly).attr("dy","0.36em")
      .attr("font-family",JP).attr("font-size",11).attr("fill","#404040").text(n);
  });

  // ellipses
  p.ellipses.forEach(e => {
    g.append("ellipse").attr("cx",e[0]).attr("cy",e[1]).attr("rx",e[2]).attr("ry",e[3])
      .attr("fill","none").attr("stroke","#111").attr("stroke-width",1.6);
  });

  // boxes
  p.boxes.forEach(b => {
    g.append("rect").attr("x",b.x).attr("y",b.y).attr("width",b.w).attr("height",b.h)
      .attr("fill","#fff").attr("stroke","#111").attr("stroke-width",1.5);
    g.append("text").attr("x",b.tx).attr("y",b.ty).attr("font-family",JP).attr("font-weight","bold")
      .attr("font-size",b.s).attr("fill","#111").attr("textLength",b.tw).attr("lengthAdjust","spacingAndGlyphs").text(b.t);
  });

  // arrows
  p.arrows.forEach(a => {
    const tx = a[1] === "imp" ? x(p.impact) : x(0);
    const ex = a[0][0] < tx ? tx - 1.5 : tx + 1.5;
    g.append("line").attr("x1",a[0][0]).attr("y1",a[0][1]).attr("x2",ex).attr("y2",a[2])
      .attr("stroke","#3a3a3a").attr("stroke-width",2).attr("marker-end","url(#arr)");
  });

  // annotation texts
  p.texts.forEach(t => {
    g.append("text").attr("x",t.x).attr("y",t.y).attr("font-family",JP).attr("font-weight","bold")
      .attr("font-size",t.s).attr("fill","#111").attr("textLength",t.w).attr("lengthAdjust","spacingAndGlyphs")
      .attr("filter",t.sh ? "url(#sh)" : null).text(t.t);
  });
});
</script>
</body></html>
